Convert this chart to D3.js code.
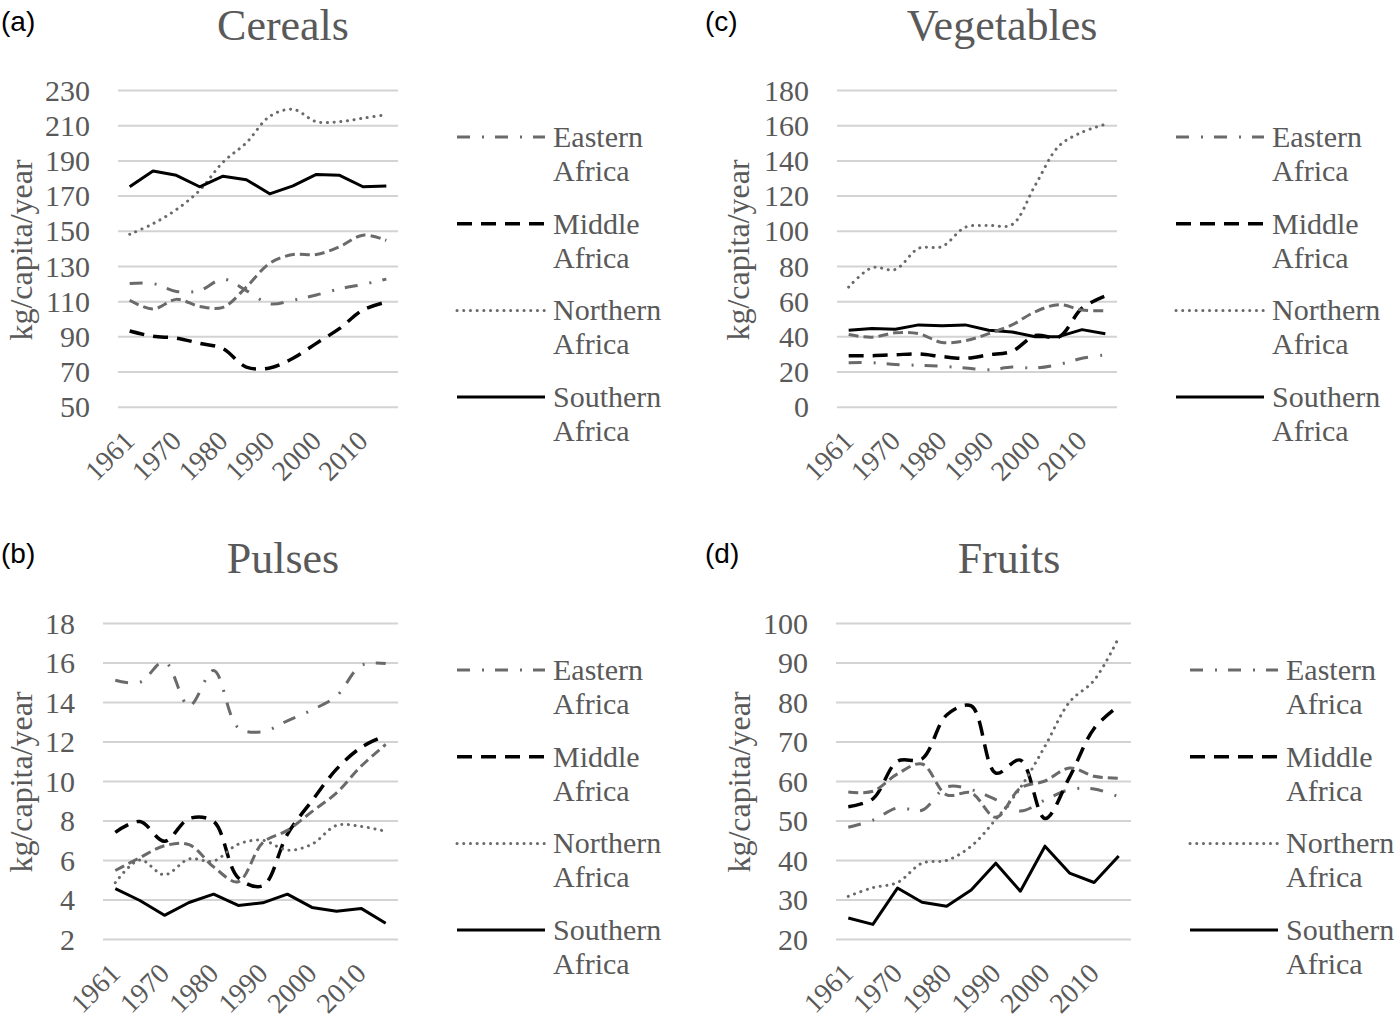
<!DOCTYPE html>
<html>
<head>
<meta charset="utf-8">
<script src="https://cdn.jsdelivr.net/npm/d3@7"></script>
<style>
  html, body { margin: 0; padding: 0; background: #ffffff; }
  svg { display: block; }
</style>
</head>
<body>
<svg id="chart" width="1400" height="1025"></svg>
<script>
// ---------- DATA ----------
const years = ["1961","1965","1970","1975","1980","1985","1990","1995","2000","2005","2010","2013"];
const tickYears = ["1961","1970","1980","1990","2000","2010"];
const regionNames = ["Eastern Africa","Middle Africa","Northern Africa","Southern Africa","Western Africa"];
const legendRegions = ["Eastern Africa","Middle Africa","Northern Africa","Southern Africa"];

// Cereals (kg/capita/year)
const cerealsEastern  = [120, 120, 115.5, 116, 122.5, 116, 108.5, 110.5, 113.5, 117, 119.5, 122.5];
const cerealsMiddle   = [93, 90, 89, 86, 83, 72.5, 72, 77.5, 86, 94.5, 105, 109.5];
const cerealsNorthern = [148, 154, 162, 173, 189, 200, 215, 219, 212, 212, 214, 216];
const cerealsSouthern = [175, 184, 181.5, 175, 181, 179, 171, 175.5, 182, 181.5, 175, 175.5];
const cerealsWestern  = [110.5, 105.5, 111, 107, 106.5, 118, 131.5, 136.5, 136.5, 141, 147.5, 144.5];
const cerealsTicks = [50, 70, 90, 110, 130, 150, 170, 190, 210, 230];

// Vegetables
const vegEastern  = [25, 25, 24, 23.5, 23, 22, 21, 22.5, 22, 24, 27.5, 29.5];
const vegMiddle   = [29, 29, 29.5, 30, 28.5, 27.5, 29.5, 31.5, 40.5, 39.5, 56, 63];
const vegNorthern = [68, 79, 78, 90, 91, 102, 103, 103.5, 126, 148, 156, 160.5];
const vegSouthern = [43.5, 44.5, 44, 46.5, 46, 46.5, 43.5, 42.5, 39.8, 39.8, 43.8, 41.5];
const vegWestern  = [41, 39.5, 42, 41.5, 36.5, 37.5, 41.5, 46.5, 54, 58, 55, 54.5];
const vegTicks = [0, 20, 40, 60, 80, 100, 120, 140, 160, 180];

// Pulses
const pulsesEastern  = [15.1, 15.0, 16.05, 13.8, 15.6, 12.7, 12.5, 13.05, 13.6, 14.3, 15.85, 15.95];
const pulsesMiddle   = [7.4, 7.95, 6.95, 8.1, 7.95, 5.1, 4.7, 7.3, 9.0, 10.6, 11.7, 12.3];
const pulsesNorthern = [4.85, 6.0, 5.25, 6.05, 5.95, 6.8, 7.0, 6.5, 6.8, 7.75, 7.7, 7.45];
const pulsesSouthern = [4.55, 3.95, 3.2, 3.85, 4.27, 3.7, 3.83, 4.27, 3.6, 3.4, 3.55, 2.8];
const pulsesWestern  = [5.47, 6.12, 6.72, 6.78, 5.65, 4.9, 6.88, 7.5, 8.45, 9.4, 10.75, 11.85];
const pulsesTicks = [2, 4, 6, 8, 10, 12, 14, 16, 18];

// Fruits
const fruitsEastern  = [48.3, 50.1, 53.2, 52.6, 58.5, 57.8, 55.3, 52.4, 55.2, 57.8, 58, 56];
const fruitsMiddle   = [53.5, 55.5, 65, 65.6, 76.7, 79, 62, 65.3, 50.5, 61, 73.3, 79];
const fruitsNorthern = [30.8, 33, 34.3, 39.2, 39.9, 43.5, 50.3, 58.3, 68.8, 80, 85.5, 96.3];
const fruitsSouthern = [25.3, 23.7, 32.9, 29.3, 28.3, 32.4, 39.2, 32.1, 43.5, 36.7, 34.3, 41];
const fruitsWestern  = [57.2, 57.4, 61.8, 64.3, 56.5, 57, 50.8, 58.2, 60, 63.3, 61.2, 60.7];
const fruitsTicks = [20, 30, 40, 50, 60, 70, 80, 90, 100];

const panelTitles = ["Cereals", "Pulses", "Vegetables", "Fruits"];
const panelLetters = ["(a)", "(b)", "(c)", "(d)"];
const yAxisTitle = "kg/capita/year";

// ---------- STYLES ----------
const GRAY = "#6a6a6a";
const TEXT = "#595959";
const seriesStyle = {
  "Eastern Africa":  { color: GRAY,   width: 3,   dash: "13,12,2,11", cap: "butt",  curve: d3.curveCatmullRom },
  "Middle Africa":   { color: "#000", width: 3.5, dash: "15,9",       cap: "butt",  curve: d3.curveCatmullRom },
  "Northern Africa": { color: GRAY,   width: 3,   dash: "0.1,6.6",    cap: "round", curve: d3.curveCatmullRom },
  "Southern Africa": { color: "#000", width: 3,   dash: null,         cap: "butt",  curve: d3.curveLinear },
  "Western Africa":  { color: GRAY,   width: 3,   dash: "10,5",       cap: "butt",  curve: d3.curveCatmullRom }
};

// ---------- LAYOUT ----------
const panels = [
  { title: panelTitles[0], letter: panelLetters[0], ticks: cerealsTicks,
    series: [cerealsEastern, cerealsMiddle, cerealsNorthern, cerealsSouthern, cerealsWestern],
    left: 118, right: 398, top: 90, bottom: 406.7, titleX: 283, titleY: 40, letterX: 1, letterY: 31,
    ytX: 21, ytY: 250, legX: 457, legY: 137 },
  { title: panelTitles[1], letter: panelLetters[1], ticks: pulsesTicks,
    series: [pulsesEastern, pulsesMiddle, pulsesNorthern, pulsesSouthern, pulsesWestern],
    left: 103, right: 398, top: 623, bottom: 939, titleX: 283, titleY: 573, letterX: 1, letterY: 563,
    ytX: 21, ytY: 782, legX: 457, legY: 670 },
  { title: panelTitles[2], letter: panelLetters[2], ticks: vegTicks,
    series: [vegEastern, vegMiddle, vegNorthern, vegSouthern, vegWestern],
    left: 837, right: 1117, top: 90, bottom: 406.7, titleX: 1002, titleY: 40, letterX: 705, letterY: 31,
    ytX: 738, ytY: 250, legX: 1176, legY: 137 },
  { title: panelTitles[3], letter: panelLetters[3], ticks: fruitsTicks,
    series: [fruitsEastern, fruitsMiddle, fruitsNorthern, fruitsSouthern, fruitsWestern],
    left: 836, right: 1131, top: 623, bottom: 939, titleX: 1009, titleY: 573, letterX: 705, letterY: 563,
    ytX: 739, ytY: 782, legX: 1190, legY: 670 }
];

const svg = d3.select("#chart");
svg.append("rect").attr("width", 1400).attr("height", 1025).attr("fill", "#fff");

const SERIF = "'Liberation Serif', 'Times New Roman', serif";

panels.forEach(p => {
  const g = svg.append("g");
  const x = d3.scalePoint().domain(years).range([p.left, p.right]).padding(0.5);
  const y = d3.scaleLinear().domain([p.ticks[0], p.ticks[p.ticks.length - 1]]).range([p.bottom, p.top]);

  // gridlines + y labels via axis
  const yAxis = d3.axisLeft(y).tickValues(p.ticks).tickSize(-(p.right - p.left)).tickPadding(28).tickFormat(d3.format("d"));
  const ya = g.append("g").attr("transform", `translate(${p.left},0)`).call(yAxis);
  ya.select(".domain").remove();
  ya.selectAll(".tick line").attr("stroke", "#d3d3d3").attr("stroke-width", 2);
  ya.selectAll(".tick text").attr("fill", TEXT).attr("font-family", SERIF).attr("font-size", 30)
    .attr("dy", "0.34em");

  // x labels via axis
  const xAxis = d3.axisBottom(x).tickValues(tickYears).tickSize(0).tickPadding(0);
  const xa = g.append("g").attr("transform", `translate(0,${p.bottom})`).call(xAxis);
  xa.select(".domain").remove();
  xa.selectAll(".tick text")
    .attr("fill", TEXT).attr("font-family", SERIF).attr("font-size", 28)
    .attr("text-anchor", "end").attr("dy", null).attr("y", null)
    .attr("transform", "translate(6,36) rotate(-45)");

  // series lines
  regionNames.forEach((name, i) => {
    const st = seriesStyle[name];
    const line = d3.line().x((d, j) => x(years[j])).y(d => y(d)).curve(st.curve);
    g.append("path").datum(p.series[i])
      .attr("d", line)
      .attr("fill", "none")
      .attr("stroke", st.color)
      .attr("stroke-width", st.width)
      .attr("stroke-dasharray", st.dash)
      .attr("stroke-linecap", st.cap)
      .attr("stroke-linejoin", "round");
  });

  // title
  g.append("text").attr("x", p.titleX).attr("y", p.titleY).attr("text-anchor", "middle")
    .attr("font-family", SERIF).attr("font-size", 44).attr("fill", TEXT).text(p.title);
  // letter
  g.append("text").attr("x", p.letterX).attr("y", p.letterY)
    .attr("font-family", "'Liberation Sans', Arial, sans-serif").attr("font-size", 28).attr("fill", "#000").text(p.letter);
  // y axis title
  g.append("text").attr("transform", `translate(${p.ytX},${p.ytY}) rotate(-90)`)
    .attr("text-anchor", "middle").attr("dy", "0.35em")
    .attr("font-family", SERIF).attr("font-size", 32).attr("fill", TEXT).text(yAxisTitle);

  // legend
  legendRegions.forEach((name, i) => {
    const st = seriesStyle[name];
    const ly = p.legY + i * 86.7;
    g.append("line").attr("x1", p.legX).attr("x2", p.legX + 88).attr("y1", ly).attr("y2", ly)
      .attr("stroke", st.color).attr("stroke-width", st.width)
      .attr("stroke-dasharray", st.dash).attr("stroke-linecap", st.cap);
    const words = name.split(" ");
    const t = g.append("text").attr("font-family", SERIF).attr("font-size", 30).attr("fill", TEXT);
    t.append("tspan").attr("x", p.legX + 96).attr("y", ly + 10).text(words[0]);
    t.append("tspan").attr("x", p.legX + 96).attr("y", ly + 44).text(words[1]);
  });
});
</script>
</body>
</html>
